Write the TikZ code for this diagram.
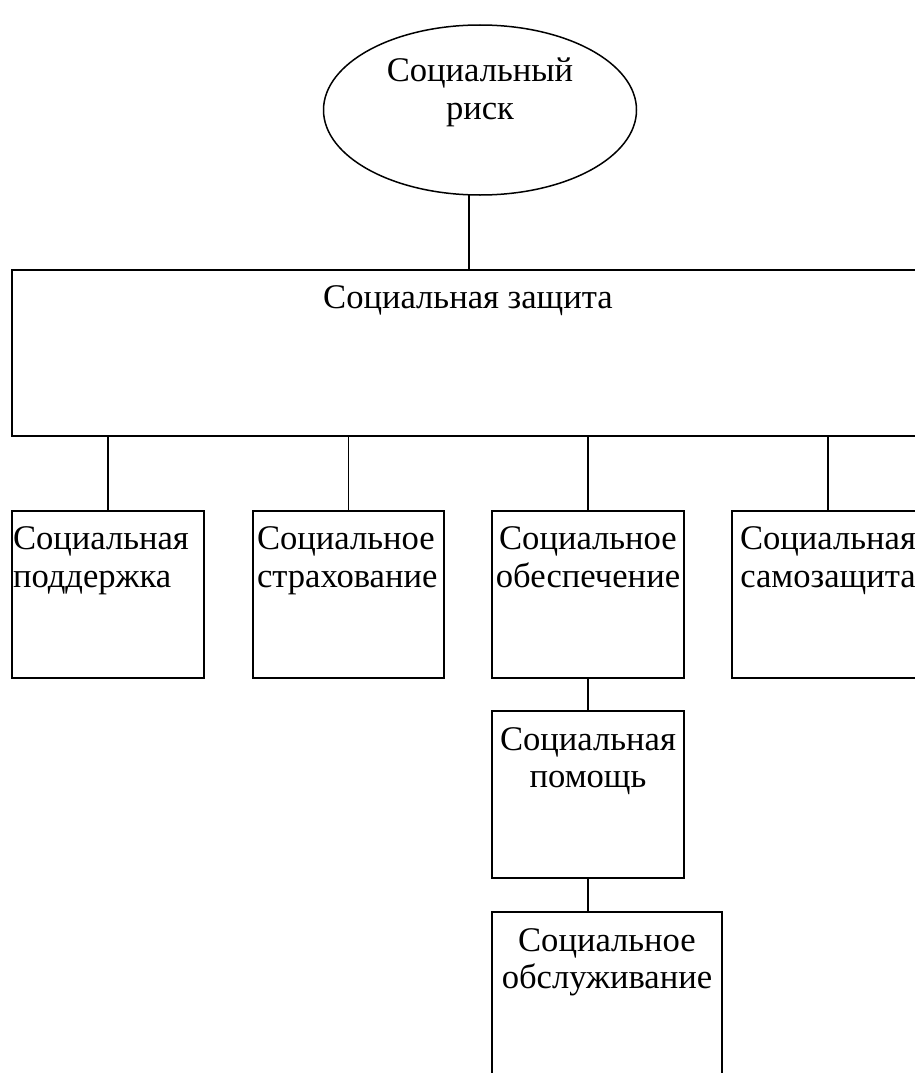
\documentclass[tikz,border=0pt]{standalone}
\usepackage{fontspec}
\setmainfont{Liberation Serif}
\usetikzlibrary{shapes.geometric}
\begin{document}
\begin{tikzpicture}[x=1pt,y=-1pt,line width=1.5pt,
  box/.style={draw,rectangle,inner sep=0pt,outer sep=0pt,anchor=north west},
  txt/.style={font=\fontsize{34.6}{37.5}\selectfont,inner sep=0pt,outer sep=0pt},
  link/.style={draw}]
\useasboundingbox (0,0) rectangle (915,1073);
\clip (0,0) rectangle (915,1073);
\node[draw,ellipse,minimum width=313pt,minimum height=170pt,inner sep=0pt,outer sep=0pt] (risk) at (480,110) {};
\node[txt,align=center,anchor=north] (risktxt) at (480,58) {Социальный\\риск};
\node[box,minimum width=914pt,minimum height=166pt] (prot) at (12,270) {};
\node[txt,anchor=base] (prottxt) at (468,308) {Социальная защита};
\node[box,minimum width=192pt,minimum height=167pt] (b1) at (12,511) {};
\node[box,minimum width=191pt,minimum height=167pt] (b2) at (253,511) {};
\node[box,minimum width=192pt,minimum height=167pt] (b3) at (492,511) {};
\node[box,minimum width=192pt,minimum height=167pt] (b4) at (732,511) {};
\node[box,minimum width=192pt,minimum height=167pt] (b5) at (492,711) {};
\node[box,minimum width=230pt,minimum height=200pt] (b6) at (492,912) {};
\node[txt,align=left,anchor=north west] (t1) at (13,527) {Социальная\\поддержка};
\node[txt,align=left,anchor=north west] (t2) at (257,527) {Социальное\\страхование};
\node[txt,align=center,anchor=north] (t3) at (588,527) {Социальное\\обеспечение};
\node[txt,align=center,anchor=north] (t4) at (828,527) {Социальная\\самозащита};
\node[txt,align=center,anchor=north] (t5) at (588,727.5) {Социальная\\помощь};
\node[txt,align=center,anchor=north] (t6) at (607,928.5) {Социальное\\обслуживание};
\draw[link] (prot.north |- risk.south) -- (prot.north);
\foreach \b in {b1,b2,b3,b4}{\draw[link] (\b.north |- prot.south) -- (\b.north);}
\draw[link] (b3.south) -- (b5.north);
\draw[link] (b5.south) -- (b5.south |- b6.north);
\end{tikzpicture}
\end{document}
